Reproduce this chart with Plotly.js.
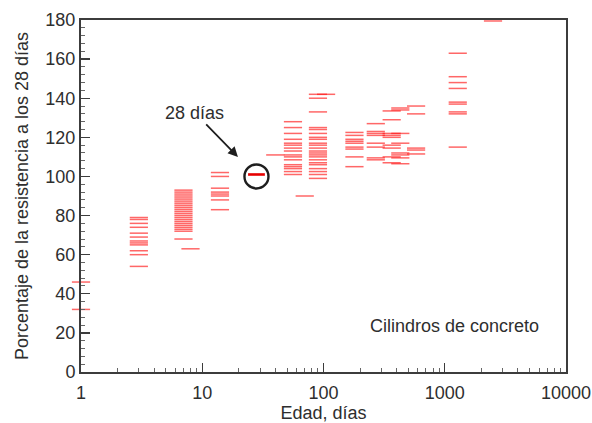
<!DOCTYPE html>
<html>
<head>
<meta charset="utf-8">
<script src="https://cdn.plot.ly/plotly-3.0.1.min.js"></script>
<style>html,body{margin:0;padding:0;background:#fff;}#chart{width:592px;height:423px;}</style>
</head>
<body>
<div id="chart"></div>
<script>
// Age (days) of each group of cylinder tests
const ages = [1, 3, 7, 8, 14, 40, 56, 70, 90, 105, 180, 270, 365, 430, 580, 1280, 2500];
// Percent of 28-day strength, per age group (same order as ages)
const pct_1 = [46, 32];
const pct_3 = [79, 78, 76, 74, 71, 69, 67, 66, 65, 62, 60, 54];
const pct_7 = [93, 92, 91, 90, 89, 88, 87, 86, 85, 84, 83, 82, 81, 80, 79, 78, 77, 76, 75, 74, 73, 72, 68];
const pct_8 = [63];
const pct_14 = [102, 100, 94, 92, 91, 90, 88, 83];
const pct_40 = [111];
const pct_56 = [128, 125, 122, 119, 117, 116, 114.5, 113, 111, 110, 108.5, 106, 105, 104, 102.5, 101];
const pct_70 = [90];
const pct_90 = [142, 140, 133, 125, 124, 122, 120, 119, 117, 116, 114.5, 113, 112, 111, 110, 108.5, 107, 106, 104, 102.5, 101, 99];
const pct_105 = [142];
const pct_180 = [122.5, 121, 119, 118, 117, 115, 114, 110, 105];
const pct_270 = [127, 123, 122, 121, 117, 115, 109.5, 108.5];
const pct_365 = [133.5, 129, 122, 121, 120, 116, 114.5, 110, 107];
const pct_430 = [135, 134, 122, 117, 112, 111, 109.5, 106.5];
const pct_580 = [136, 132, 114.5, 113.5, 111.5];
const pct_1280 = [163, 151, 148, 145, 138, 137, 133, 132, 115];
const pct_2500 = [179.5];
const groups = [pct_1, pct_3, pct_7, pct_8, pct_14, pct_40, pct_56, pct_70, pct_90, pct_105,
                pct_180, pct_270, pct_365, pct_430, pct_580, pct_1280, pct_2500];
// 28-day reference point
const ref28Age = [28];
const ref28Pct = [101];

// Axis tick labels
const xTickVals = [1, 10, 100, 1000, 10000];
const xTickText = ['1', '10', '100', '1000', '10000'];
const xMinorVals = [];
[1, 10, 100, 1000].forEach(d => { for (let k = 2; k <= 9; k++) xMinorVals.push(k * d); });

const xs = [], ys = [];
groups.forEach((g, i) => g.forEach(v => { xs.push(ages[i]); ys.push(v); }));

const font = 'Liberation Sans, Arial, Helvetica, sans-serif';
const txt = '#2e2e2e';
const axc = '#3c3c3c';
const fs = 18;

const traces = [
  {
    type: 'scatter', mode: 'markers', x: xs, y: ys, cliponaxis: false,
    marker: {symbol: 'line-ew', size: 13, line: {color: 'rgba(255,25,25,0.66)', width: 1.5}},
    hoverinfo: 'x+y'
  },
  {
    type: 'scatter', mode: 'markers', x: ref28Age, y: ref28Pct, cliponaxis: false,
    marker: {symbol: 'line-ew', size: 12, line: {color: '#e60000', width: 2.6}}
  },
  {
    type: 'scatter', mode: 'markers', x: ref28Age, y: [100], cliponaxis: false,
    marker: {symbol: 'circle-open', size: 24, color: '#1e1e1e', line: {width: 2.4, color: '#1e1e1e'}}
  }
];

const layout = {
  width: 592, height: 423,
  margin: {l: 81, r: 26, t: 20, b: 51},
  paper_bgcolor: '#fff', plot_bgcolor: '#fff',
  showlegend: false,
  font: {family: font, size: fs, color: txt},
  xaxis: {
    type: 'log', range: [0, 4],
    tickmode: 'array', tickvals: xTickVals, ticktext: xTickText,
    ticks: 'inside', ticklen: 9, tickwidth: 1.3, tickcolor: axc,
    ticklabelstandoff: 3,
    minor: {ticks: 'inside', ticklen: 4, tickwidth: 1, tickcolor: '#666', tickmode: 'array', tickvals: xMinorVals, showgrid: false},
    showline: true, linecolor: axc, linewidth: 2, mirror: true,
    showgrid: false, zeroline: false,
    tickfont: {family: font, size: fs, color: txt},
    title: {text: 'Edad, días', font: {family: font, size: fs, color: txt}, standoff: 6}
  },
  yaxis: {
    range: [0, 180], dtick: 20, tick0: 0,
    ticks: 'inside', ticklen: 9, tickwidth: 1.3, tickcolor: axc,
    minor: {ticks: 'inside', ticklen: 4, tickwidth: 1, tickcolor: '#666', dtick: 4, showgrid: false},
    showline: true, linecolor: axc, linewidth: 2, mirror: true,
    showgrid: false, zeroline: false,
    tickfont: {family: font, size: fs, color: txt},
    title: {text: 'Porcentaje de la resistencia a los 28 días', font: {family: font, size: fs, color: txt}, standoff: 12}
  },
  annotations: [
    {
      x: Math.log10(19.7), y: 110, xref: 'x', yref: 'y',
      text: '28 días', showarrow: true, ax: -43, ay: -44,
      arrowhead: 2, arrowsize: 1.1, arrowwidth: 1.8, arrowcolor: '#1e1e1e',
      font: {family: font, size: fs, color: txt}
    },
    {
      x: 0.771, y: 0.132, xref: 'paper', yref: 'paper', xanchor: 'center', yanchor: 'middle',
      text: 'Cilindros de concreto', showarrow: false,
      font: {family: font, size: fs, color: txt}
    }
  ]
};

Plotly.newPlot('chart', traces, layout, {displayModeBar: false, staticPlot: true});
</script>
</body>
</html>
